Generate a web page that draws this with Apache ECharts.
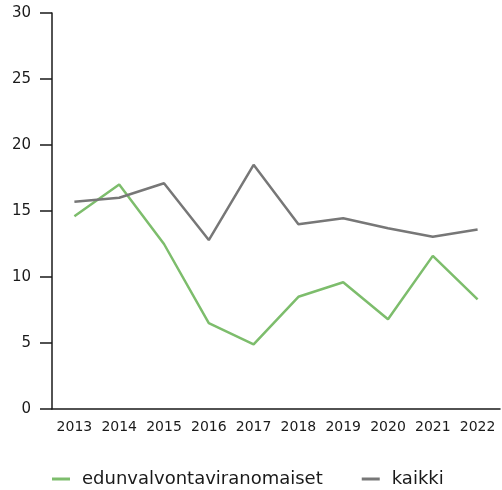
<!DOCTYPE html>
<html>
<head>
<meta charset="utf-8">
<script src="https://cdn.jsdelivr.net/npm/echarts@6/dist/echarts.min.js"></script>
<style>
html,body{margin:0;padding:0;background:#fff;}
#chart{width:502px;height:490px;}
</style>
</head>
<body>
<div id="chart"></div>
<script>
var years = ['2013','2014','2015','2016','2017','2018','2019','2020','2021','2022'];
var edunvalvonta = [14.6, 17.0, 12.5, 6.5, 4.9, 8.5, 9.6, 6.8, 11.6, 8.3];
var kaikki = [15.7, 16.0, 17.1, 12.8, 18.5, 14.0, 14.45, 13.7, 13.05, 13.6];

var chart = echarts.init(document.getElementById('chart'));
var font = '"DejaVu Sans", sans-serif';
var option = {
    animation: false,
    grid: { left: 52, right: 2, top: 13, bottom: 81 },
    legend: {
        top: 469,
        left: 52,
        padding: 0,
        itemGap: 39,
        icon: 'rect',
        itemWidth: 18,
        itemHeight: 3,
        textStyle: { fontFamily: font, fontSize: 18, lineHeight: 20, color: '#1a1a1a', padding: [0, 0, 0, 7] },
        data: ['edunvalvontaviranomaiset', 'kaikki']
    },
    xAxis: {
        type: 'category',
        data: years,
        boundaryGap: true,
        axisLine: { lineStyle: { color: '#1a1a1a', width: 1.5 } },
        axisTick: { inside: true, length: 10, lineStyle: { color: '#1a1a1a', width: 1.5 } },
        axisLabel: { interval: 0, fontFamily: font, fontSize: 14, color: '#1a1a1a', margin: 11 }
    },
    yAxis: {
        type: 'value',
        min: 0,
        max: 30,
        interval: 5,
        splitLine: { show: false },
        axisLine: { show: true, lineStyle: { color: '#1a1a1a', width: 1.5 } },
        axisTick: { show: true, length: 12, lineStyle: { color: '#1a1a1a', width: 1.5 } },
        axisLabel: { fontFamily: font, fontSize: 15, color: '#1a1a1a', margin: 21 }
    },
    series: [
        {
            name: 'edunvalvontaviranomaiset',
            type: 'line',
            data: edunvalvonta,
            symbol: 'none',
            itemStyle: { color: '#7dbd6c' },
            lineStyle: { color: '#7dbd6c', width: 2.5 }
        },
        {
            name: 'kaikki',
            type: 'line',
            data: kaikki,
            symbol: 'none',
            itemStyle: { color: '#777777' },
            lineStyle: { color: '#777777', width: 2.5 }
        }
    ]
};
chart.setOption(option);
</script>
</body>
</html>
